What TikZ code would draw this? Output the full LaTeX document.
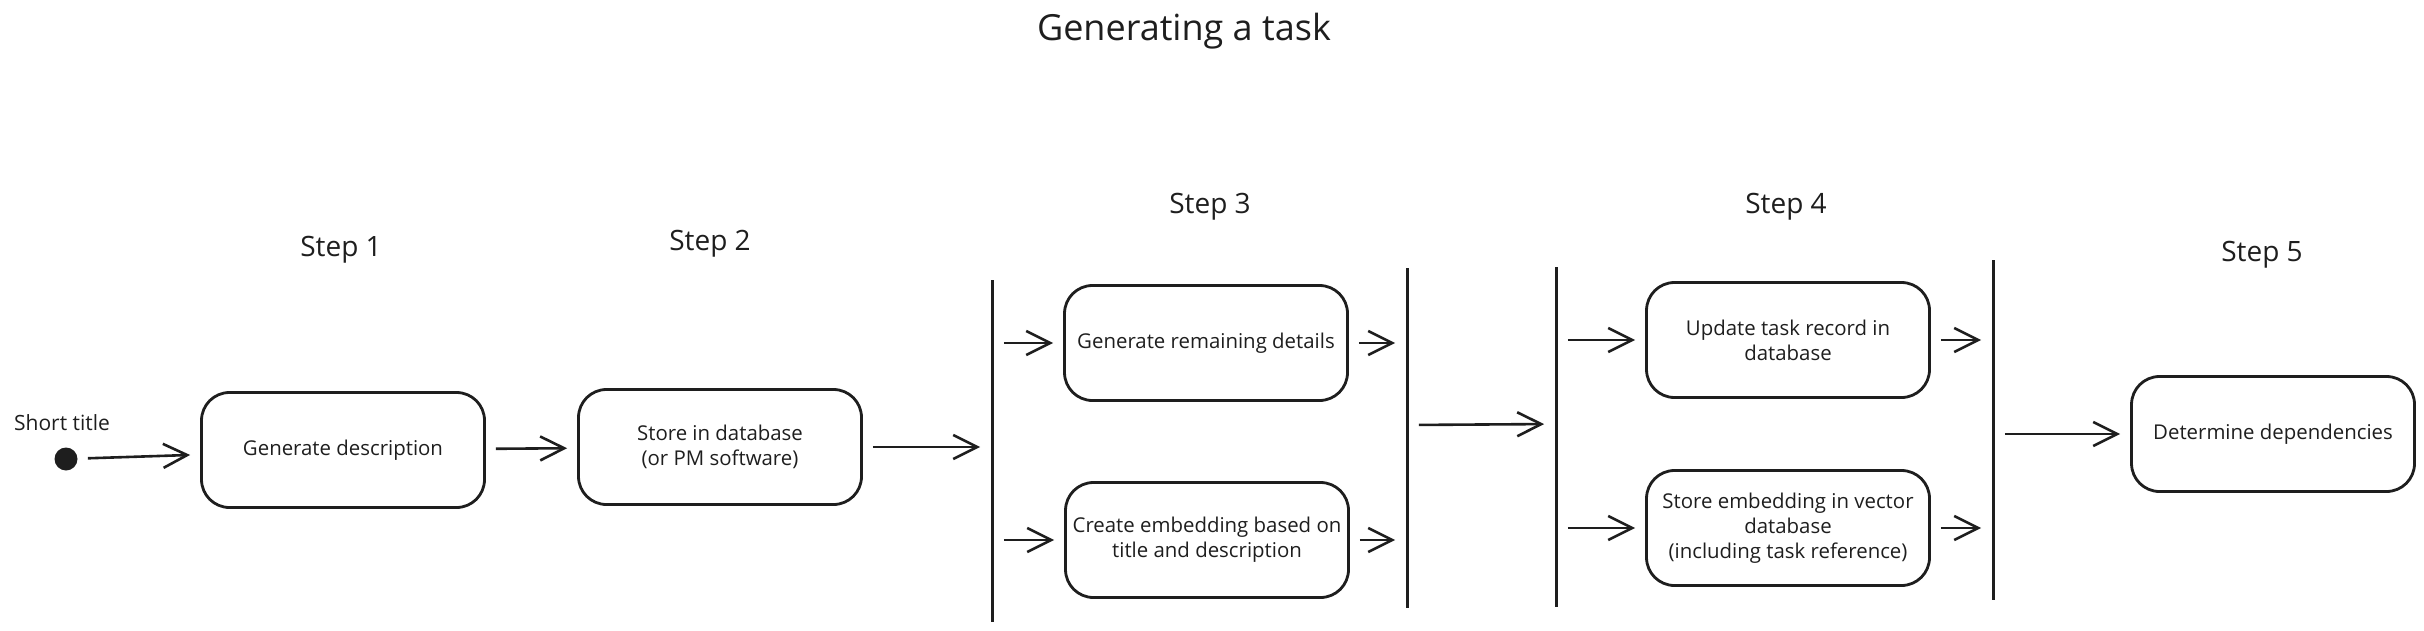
\documentclass[tikz,border=0pt]{standalone}
\usepackage{fontspec}
\setmainfont{Open Sans}
\usepackage{tikz}
\usetikzlibrary{positioning,arrows.meta,calc}
\definecolor{InkBlack}{HTML}{1E1E1E}

\begin{document}
\begin{tikzpicture}[
  x=0.5pt, y=-0.5pt,
  box/.style={draw=InkBlack, line width=1.4pt, rounded corners=14pt, minimum width=141.5pt, minimum height=57.5pt, align=center, font=\fontsize{10.2}{12.5}\selectfont, text=InkBlack},
  bar/.style={fill=InkBlack, inner sep=0pt, minimum width=1.5pt},
  steplabel/.style={font=\fontsize{14}{16}\selectfont, text=InkBlack},
  flow/.style={-{Straight Barb[length=12pt,width=12pt,line width=1.3pt]}, line width=1.3pt, InkBlack, shorten <=5pt, shorten >=5pt}
]
\useasboundingbox (0,0) rectangle (2424,631);
% title and step labels
\node[font=\fontsize{18}{20}\selectfont, text=InkBlack] (title) at (1184,31) {Generating a task};
\node[steplabel] (s1) at (341,250) {Step 1};
\node[steplabel] (s2) at (710,244) {Step 2};
\node[steplabel] (s3) at (1210,207) {Step 3};
\node[steplabel] (s4) at (1786,207) {Step 4};
\node[steplabel] (s5) at (2262,255) {Step 5};
% start
\node[circle, fill=InkBlack, inner sep=0pt, minimum size=11.5pt] (start) at (66,459) {};
\node[font=\fontsize{10.5}{12}\selectfont, text=InkBlack] (short) at (62,423) {Short title};
% activities
\node[box] (desc) at (343,450) {Generate description};
\node[box] (store) at (720,447) {Store in database\\(or PM software)};
\node[box] (details) at (1206,343) {Generate remaining details};
\node[box] (embed) at (1207,540) {Create embedding based on\\title and description};
\node[box] (update) at (1788,340) {Update task record in\\database};
\node[box] (vector) at (1788,528) {Store embedding in vector\\database\\(including task reference)};
\node[box] (deps) at (2273,434) {Determine dependencies};
% fork / join bars
\node[bar, minimum height=171pt] (fork1) at (992,451) {};
\node[bar, minimum height=170pt] (join1) at (1407,438) {};
\node[bar, minimum height=170pt] (fork2) at (1556,437) {};
\node[bar, minimum height=170pt] (join2) at (1993,430) {};
% connectors
\draw[flow] (start) -- (desc);
\draw[flow] (desc) -- (store);
\draw[flow] (store.east) -- (store.east -| fork1.west);
\draw[flow] (details.west -| fork1.east) -- (details.west);
\draw[flow] (embed.west -| fork1.east) -- (embed.west);
\draw[flow] (details.east) -- (details.east -| join1.west);
\draw[flow] (embed.east) -- (embed.east -| join1.west);
\draw[flow] ($(join1.east)+(0,-13)$) -- ($(fork2.west)+(0,-13)$);
\draw[flow] (update.west -| fork2.east) -- (update.west);
\draw[flow] (vector.west -| fork2.east) -- (vector.west);
\draw[flow] (update.east) -- (update.east -| join2.west);
\draw[flow] (vector.east) -- (vector.east -| join2.west);
\draw[flow] (deps.west -| join2.east) -- (deps.west);
\end{tikzpicture}
\end{document}
